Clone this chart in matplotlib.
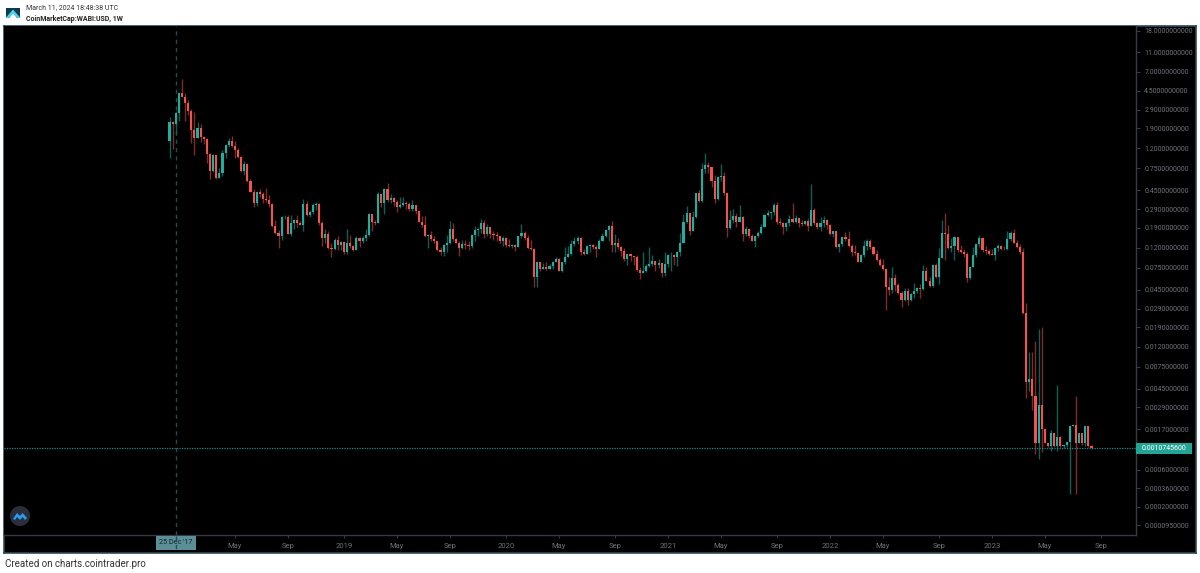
import numpy as np
import matplotlib
matplotlib.use("Agg")
import matplotlib.pyplot as plt
import matplotlib.dates as mdates
from matplotlib.patches import Rectangle, Polygon, Circle
from datetime import datetime, timedelta

first_open = 1.42
closes = [
 2.2,2.09,2.68,4.25,3.93,3.38,2.85,1.82,1.5,1.92,
 1.54,1.47,1.05,.705,1.02,.595,.68,1.08,1.29,1.42,
 1.26,1.15,.985,.71,.83,.565,.438,.34,.435,.415,
 .367,.36,.33,.198,.169,.155,.242,.246,.166,.21,
 .227,.213,.203,.33,.255,.272,.322,.33,.21,.151,
 .164,.118,.117,.143,.126,.137,.107,.134,.124,.113,
 .149,.138,.149,.16,.259,.218,.21,.418,.335,.46,
 .36,.375,.347,.305,.322,.335,.33,.291,.322,.282,
 .218,.203,.155,.16,.145,.138,.113,.107,.127,.134,
 .183,.145,.134,.12,.13,.127,.124,.16,.18,.183,
 .21,.166,.192,.164,.16,.157,.138,.149,.127,.124,
 .128,.121,.155,.169,.149,.118,.115,.061,.0865,.0735,
 .077,.0735,.078,.0865,.0915,.0705,.085,.097,.103,.13,
 .138,.149,.107,.103,.124,.126,.121,.117,.14,.157,
 .18,.198,.127,.134,.121,.111,.092,.103,.099,.096,
 .0715,.067,.0705,.078,.082,.088,.08,.083,.067,.082,
 .101,.102,.097,.109,.134,.218,.265,.177,.246,.422,
 .353,.735,.81,.77,.565,.367,.61,.628,.422,.188,
 .227,.25,.218,.242,.166,.183,.155,.14,.155,.169,
 .192,.255,.269,.272,.322,.218,.213,.192,.21,.231,
 .218,.236,.213,.207,.222,.198,.287,.213,.192,.21,
 .227,.203,.164,.174,.121,.13,.152,.145,.124,.109,
 .105,.086,.101,.124,.138,.121,.103,.09,.08,.0725,
 .0486,.045,.0595,.0505,.042,.0357,.0435,.0357,.041,.0435,
 .0465,.046,.069,.0555,.0494,.08,.06,.0935,.169,.164,
 .118,.124,.152,.113,.109,.103,.059,.077,.102,.13,
 .149,.113,.112,.103,.102,.118,.124,.116,.115,.145,
 .169,.134,.122,.109,.0266,.0052,.0057,.00376,.00122,.00308,
 .00169,.00122,.00112,.00153,.00112,.00141,.00112,.00115,.00123,.00185,
 .00189,.00122,.00153,.0012,.00182,.00112,.00107456]
highs = [
 2.48,2.24,2.85,4.28,5.97,4.3,3.64,2.94,2.79,2.18,
 2.08,1.59,1.5,1.06,1.04,1.03,.762,1.15,1.31,1.5,
 1.58,1.42,1.19,1.0,.89,.855,.59,.466,.445,.463,
 .432,.473,.406,.34,.227,.18,.25,.252,.255,.255,
 .231,.252,.224,.367,.353,.287,.335,.343,.335,.224,
 .183,.176,.134,.149,.155,.138,.14,.183,.16,.127,
 .155,.152,.157,.185,.265,.247,.227,.438,.375,.473,
 .53,.418,.385,.36,.385,.39,.355,.347,.36,.322,
 .282,.247,.247,.166,.176,.157,.14,.121,.13,.16,
 .222,.21,.149,.14,.143,.143,.138,.163,.198,.192,
 .231,.227,.207,.177,.174,.171,.158,.155,.152,.145,
 .13,.13,.157,.205,.174,.16,.143,.118,.088,.085,
 .083,.0865,.082,.088,.096,.0935,.0865,.121,.124,.143,
 .152,.155,.152,.115,.127,.129,.13,.127,.145,.169,
 .183,.203,.222,.166,.149,.124,.118,.104,.101,.099,
 .101,.077,.107,.082,.121,.101,.088,.092,.085,.107,
 .103,.107,.103,.112,.169,.261,.315,.269,.282,.428,
 .455,.845,1.06,.875,.78,.643,.628,.83,.685,.422,
 .287,.291,.269,.322,.247,.198,.183,.164,.157,.177,
 .207,.261,.287,.276,.335,.343,.236,.215,.218,.255,
 .34,.255,.24,.227,.227,.236,.523,.302,.218,.242,
 .247,.233,.207,.176,.172,.134,.153,.172,.176,.13,
 .127,.107,.103,.143,.145,.146,.124,.113,.0935,.092,
 .074,.06,.077,.065,.053,.044,.0475,.0465,.0415,.053,
 .0486,.0517,.08,.077,.06,.082,.083,.118,.227,.265,
 .2,.149,.155,.153,.127,.115,.109,.078,.121,.132,
 .16,.149,.124,.115,.115,.121,.13,.126,.124,.176,
 .176,.183,.143,.13,.118,.0332,.0105,.0105,.0138,.0182,
 .0189,.00171,.00122,.00165,.00155,.0049,.00143,.00116,.00124,.00187,
 .00192,.00378,.00155,.00123,.00185,.00185,.00115]
lows = [
 .96,1.17,1.62,2.25,3.88,2.25,2.58,1.36,1.02,1.5,
 1.39,1.31,.855,.586,.695,.582,.595,.628,.96,1.22,
 1.24,.96,.95,.695,.643,.55,.432,.31,.315,.385,
 .335,.347,.31,.195,.166,.118,.143,.231,.164,.155,
 .183,.195,.2,.176,.25,.246,.261,.287,.203,.124,
 .132,.116,.097,.113,.113,.113,.104,.103,.118,.111,
 .113,.121,.132,.138,.155,.177,.203,.21,.305,.259,
 .347,.335,.315,.276,.298,.315,.291,.282,.282,.261,
 .215,.195,.152,.12,.14,.134,.112,.1,.099,.109,
 .13,.14,.132,.099,.115,.115,.113,.118,.14,.155,
 .169,.149,.157,.149,.143,.14,.134,.124,.122,.121,
 .118,.112,.121,.149,.143,.115,.113,.0486,.048,.069,
 .0725,.0715,.0725,.0725,.085,.069,.068,.082,.096,.102,
 .124,.13,.101,.101,.103,.109,.115,.097,.115,.138,
 .152,.138,.107,.107,.115,.099,.088,.08,.088,.08,
 .069,.058,.067,.068,.076,.078,.07,.074,.06,.062,
 .076,.069,.08,.078,.099,.132,.213,.16,.176,.236,
 .343,.347,.68,.67,.49,.335,.36,.565,.406,.152,
 .183,.213,.192,.218,.14,.155,.149,.138,.122,.152,
 .164,.192,.247,.233,.255,.207,.203,.166,.176,.198,
 .21,.21,.195,.198,.203,.177,.198,.203,.183,.174,
 .195,.183,.16,.152,.118,.107,.124,.14,.122,.099,
 .101,.085,.085,.097,.113,.117,.102,.088,.078,.0715,
 .0283,.04,.042,.044,.041,.0305,.035,.0318,.0348,.037,
 .0415,.037,.045,.055,.048,.0486,.059,.0517,.0935,.09,
 .116,.109,.09,.107,.105,.097,.0535,.058,.077,.097,
 .122,.109,.103,.101,.1,.09,.111,.113,.113,.113,
 .14,.132,.12,.103,.026,.0036,.0042,.00268,.00091,.0008,
 .00096,.0012,.00109,.00098,.00109,.00098,.00109,.00107,.00109,.0003,
 .00185,.0003,.0012,.00116,.00112,.00108,.00105]

price_ticks = [18, 11, 7, 4.5, 2.9, 1.9, 1.2, .75, .45, .29, .19, .12, .075, .045,
               .029, .019, .012, .0075, .0045, .0029, .0017, .0006, .00036, .0002, .000095]
date_ticks = ["2018-05-07","2018-09-03","2019-01-07","2019-05-06","2019-09-02","2020-01-06",
              "2020-05-04","2020-09-07","2021-01-04","2021-05-03","2021-09-06","2022-01-03",
              "2022-05-02","2022-09-05","2023-01-02","2023-05-01","2023-09-04"]
date_labels = ["May","Sep","2019","May","Sep","2020","May","Sep","2021","May","Sep","2022",
               "May","Sep","2023","May","Sep"]
first_week = datetime(2017, 12, 11)
crosshair_week = datetime(2017, 12, 25)
last_price = 0.00107456

closes = np.array(closes); highs = np.array(highs); lows = np.array(lows)
opens = np.r_[first_open, closes[:-1]]
weeks = mdates.date2num([first_week + timedelta(days=7*i) for i in range(len(closes))])

W, H = 1200, 573
plt.rcParams["font.family"] = ["Roboto", "DejaVu Sans"]
fig = plt.figure(figsize=(W/100, H/100), dpi=100, facecolor="white")

def rect(l, t, r, b):
    return [l/W, 1-b/H, (r-l)/W, (b-t)/H]

FRAME = "#2f4a58"
GRID = "#363a45"
TXT = "#6f727c"
TEAL = "#1fae9f"; RED = "#f0544f"
TEAL_W = "#0f5f57"; RED_W = "#7d2c2b"

bg = fig.add_axes(rect(4, 26, 1196, 553), facecolor="black")
bg.set_xticks([]); bg.set_yticks([])
for s in bg.spines.values():
    s.set_color(FRAME); s.set_linewidth(1.2)

ax = fig.add_axes(rect(4, 26, 1136, 535), facecolor="black")
c = 1e-4
ppd = 99.55
x0 = mdates.date2num(first_week)
dpp = 7/3.115
ax.set_xlim(x0 + (4-169.5)*dpp, x0 + (1136-169.5)*dpp)

up = closes >= opens
cols_w = np.where(up, TEAL_W, RED_W)
cols_b = np.where(up, TEAL, RED)
ax.vlines(weeks, lows, highs, colors=cols_w, linewidth=1.0, zorder=3)
ax.bar(weeks, np.abs(closes-opens), bottom=np.minimum(opens, closes), width=2.1*dpp,
       color=cols_b, linewidth=0, zorder=4)

ax.axhline(last_price, color="#1d8f86", linewidth=0.9, linestyle=(0, (1, 1)), zorder=5)
ax.axvline(mdates.date2num(crosshair_week), color="#1f4f50", linewidth=1.0,
           linestyle=(0, (3, 3)), zorder=2)

ax.set_yscale("function", functions=(lambda p: np.log10(np.maximum(p + c, 1e-9)),
                                     lambda v: 10.0**v - c))
ax.yaxis.tick_right()
ax.set_ylim(10**((155.9-535)/ppd)-c, 10**((155.9-26)/ppd)-c)
ax.set_yticks(price_ticks)
ax.set_yticklabels([f"{t:.10f}" for t in price_ticks])
ax.yaxis.set_minor_locator(matplotlib.ticker.NullLocator())
ax.set_xticks(mdates.date2num([datetime.fromisoformat(d) for d in date_ticks]))
ax.set_xticklabels(date_labels)
ax.tick_params(axis="y", colors=GRID, labelcolor=TXT, labelsize=5.0, length=3, width=0.8, pad=3)
ax.tick_params(axis="x", colors=GRID, labelcolor=TXT, labelsize=5.5, length=2, width=0.8, pad=4)
for k, s in ax.spines.items():
    s.set_visible(k in ("right", "bottom"))
    s.set_color(GRID); s.set_linewidth(1.0)

# overlay in figure pixels
ov = fig.add_axes([0, 0, 1, 1], facecolor="none", zorder=10)
ov.set_xlim(0, W); ov.set_ylim(H, 0); ov.axis("off")

ov.add_patch(Rectangle((1136, 442.5), 56, 11.5, facecolor="#23a595", edgecolor="none"))
ov.text(1164, 448.5, f"{last_price:.10f}", color="white", fontsize=5.0, ha="center", va="center")
ov.add_patch(Rectangle((156, 536), 39.5, 14, facecolor="#5b8e96", edgecolor="none"))
ov.plot([176, 176], [536, 550], color="#1f4f50", lw=1, ls=(0, (3, 3)))
ov.text(176, 543, "25 Dec '17", color="#12262a", fontsize=5.2, ha="center", va="center")

# header logo
ov.add_patch(Polygon([(6, 8), (20, 8), (20, 18), (17, 18), (13, 13), (9, 18), (6, 18)],
                     facecolor="#0f3a4d", edgecolor="none"))
ov.add_patch(Polygon([(5.5, 18), (13, 9.5), (20.5, 18), (17.5, 18), (13, 14), (8.5, 18)],
                     facecolor="#4fd0e8", edgecolor="none"))
ov.text(26, 8, "March 11, 2024 18:48:38 UTC", color="#333333", fontsize=5.05, va="center", ha="left")
ov.text(26, 19, "CoinMarketCap:WABI:USD, 1W", color="#222222", fontsize=5.0, va="center", ha="left",
        fontweight="bold")
ov.text(5, 564, "Created on charts.cointrader.pro", color="#333333", fontsize=7.0, va="center", ha="left")

# watermark logo
ov.add_patch(Circle((20, 516), 10, facecolor="#2a2e3b", edgecolor="none"))
ov.add_patch(Polygon([(13, 519), (17, 513), (20, 516), (22.5, 513), (27, 518), (25, 520),
                      (22.5, 517), (20, 520), (17, 517), (15, 520)],
                     facecolor="#2a9df4", edgecolor="none"))

fig.savefig("out.png", dpi=100, facecolor="white")
